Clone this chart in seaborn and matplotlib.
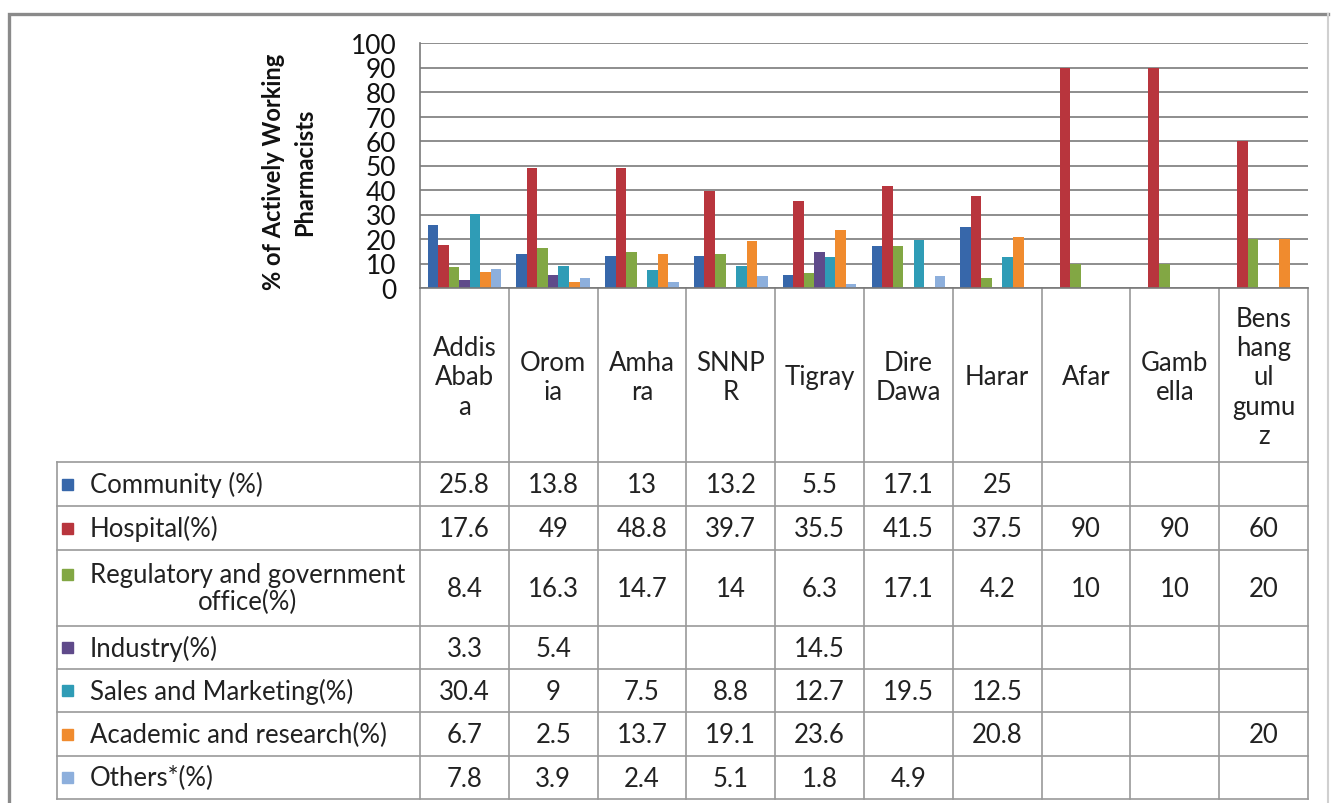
import numpy as np
import pandas as pd
import matplotlib
matplotlib.use("Agg")
import matplotlib.pyplot as plt
import seaborn as sns

# Regions (columns) and their wrapped header text
regions = ["Addis Ababa", "Oromia", "Amhara", "SNNPR", "Tigray", "Dire Dawa",
           "Harar", "Afar", "Gambella", "Benshangul gumuz"]
region_headers = ["Addis\nAbab\na", "Orom\nia", "Amha\nra", "SNNP\nR", "Tigray",
                  "Dire\nDawa", "Harar", "Afar", "Gamb\nella", "Bens\nhang\nul\ngumu\nz"]

# Work sectors (series)
sectors = ["Community (%)", "Hospital(%)", "Regulatory and government\noffice(%)",
           "Industry(%)", "Sales and Marketing(%)", "Academic and research(%)",
           "Others*(%)"]

nan = np.nan
community = [25.8, 13.8, 13, 13.2, 5.5, 17.1, 25, nan, nan, nan]
hospital = [17.6, 49, 48.8, 39.7, 35.5, 41.5, 37.5, 90, 90, 60]
regulatory = [8.4, 16.3, 14.7, 14, 6.3, 17.1, 4.2, 10, 10, 20]
industry = [3.3, 5.4, nan, nan, 14.5, nan, nan, nan, nan, nan]
sales = [30.4, 9, 7.5, 8.8, 12.7, 19.5, 12.5, nan, nan, nan]
academic = [6.7, 2.5, 13.7, 19.1, 23.6, nan, 20.8, nan, nan, 20]
others = [7.8, 3.9, 2.4, 5.1, 1.8, 4.9, nan, nan, nan, nan]

series = [community, hospital, regulatory, industry, sales, academic, others]
colors = ["#3767AA", "#B8353D", "#82A744", "#5F4A8A", "#2F9CB6", "#F08B2E", "#8DAFDC"]

# Long-form table for seaborn
rows = []
for sec, vals in zip(sectors, series):
    for reg, v in zip(regions, vals):
        if not np.isnan(v):
            rows.append({"region": reg, "sector": sec, "value": v})
df = pd.DataFrame(rows)

W, H = 1331, 804
FONT = "Lato"
plt.rcParams["font.family"] = [FONT, "DejaVu Sans"]
TXT = 18.5
TXT_C = "#222222"

fig = plt.figure(figsize=(W / 100, H / 100), dpi=100)
fig.patch.set_facecolor("white")

# Plot area in pixel terms
x0, x1, ytop, ybot = 420, 1308, 44, 289
ax = fig.add_axes([x0 / W, 1 - ybot / H, (x1 - x0) / W, (ybot - ytop) / H])
sns.barplot(data=df, x="region", y="value", hue="sector", order=regions,
            hue_order=sectors, palette=colors, width=0.83, saturation=1,
            legend=False, ax=ax, linewidth=0)
ax.set_xlim(-0.5, len(regions) - 0.5)
ax.set_ylim(0, 100)
ax.set_yticks(range(0, 101, 10))
ax.yaxis.grid(True, color="#7a7a7a", linewidth=1.2)
ax.set_axisbelow(True)
ax.tick_params(axis="y", length=0, pad=17, labelsize=19, labelcolor="#111111")
ax.tick_params(axis="x", length=0, labelbottom=False)
ax.set_xlabel("")
ax.set_ylabel("")
for s in ["top", "right"]:
    ax.spines[s].set_visible(False)
for s in ["left", "bottom"]:
    ax.spines[s].set_color("#7a7a7a")
    ax.spines[s].set_linewidth(1.2)
ax.set_facecolor("none")

# Overlay in pixel coordinates for the data table and frame
tax = fig.add_axes([0, 0, 1, 1])
tax.set_xlim(0, W)
tax.set_ylim(H, 0)
tax.axis("off")
tax.set_zorder(-1)

fig.text(289 / W, 1 - 172 / H, "% of Actively Working\nPharmacists", rotation=90,
         ha="center", va="center", multialignment="center", fontsize=17,
         fontweight="bold", color="#111111", linespacing=1.4)

# Outer frame
tax.plot([9, 9, 1328], [812, 15, 15], color="#8a8a8a", lw=2.4,
         solid_joinstyle="miter")
tax.plot([1328, 1328], [15, 812], color="#d0d0d0", lw=1.5)

col_w = (x1 - x0) / len(regions)
col_edges = [x0 + i * col_w for i in range(len(regions) + 1)]
row_edges = [463, 507, 551, 627, 670, 713, 757, 800]
tbl_left = 57
grid_c = "#9a9a9a"

# Vertical table lines
for xe in col_edges:
    tax.plot([xe, xe], [ybot, row_edges[-1]], color=grid_c, lw=1.2)
tax.plot([tbl_left, tbl_left], [row_edges[0], row_edges[-1]], color=grid_c, lw=1.2)
# Horizontal table lines
for ye in row_edges:
    tax.plot([tbl_left, x1], [ye, ye], color=grid_c, lw=1.2)

# Region headers
for i, lab in enumerate(region_headers):
    cx = (col_edges[i] + col_edges[i + 1]) / 2
    tax.text(cx, (ybot + row_edges[0]) / 2 + 2, lab, ha="center", va="center",
             multialignment="center", fontsize=TXT, color=TXT_C, linespacing=1.22)

# Legend keys, labels and values
for r, (sec, vals, c) in enumerate(zip(sectors, series, colors)):
    cy = (row_edges[r] + row_edges[r + 1]) / 2
    ky = cy - 14 if "\n" in sec else cy
    tax.add_patch(plt.Rectangle((62, ky - 5.5), 11, 11, color=c))
    tax.text(90, cy, sec, ha="left", va="center", multialignment="center",
             fontsize=TXT, color=TXT_C, linespacing=1.1)
    for i, v in enumerate(vals):
        if np.isnan(v):
            continue
        cx = (col_edges[i] + col_edges[i + 1]) / 2
        tax.text(cx, cy + 1, f"{v:g}", ha="center", va="center", fontsize=TXT,
                 color=TXT_C)

fig.savefig("out.png", dpi=100, facecolor="white")
